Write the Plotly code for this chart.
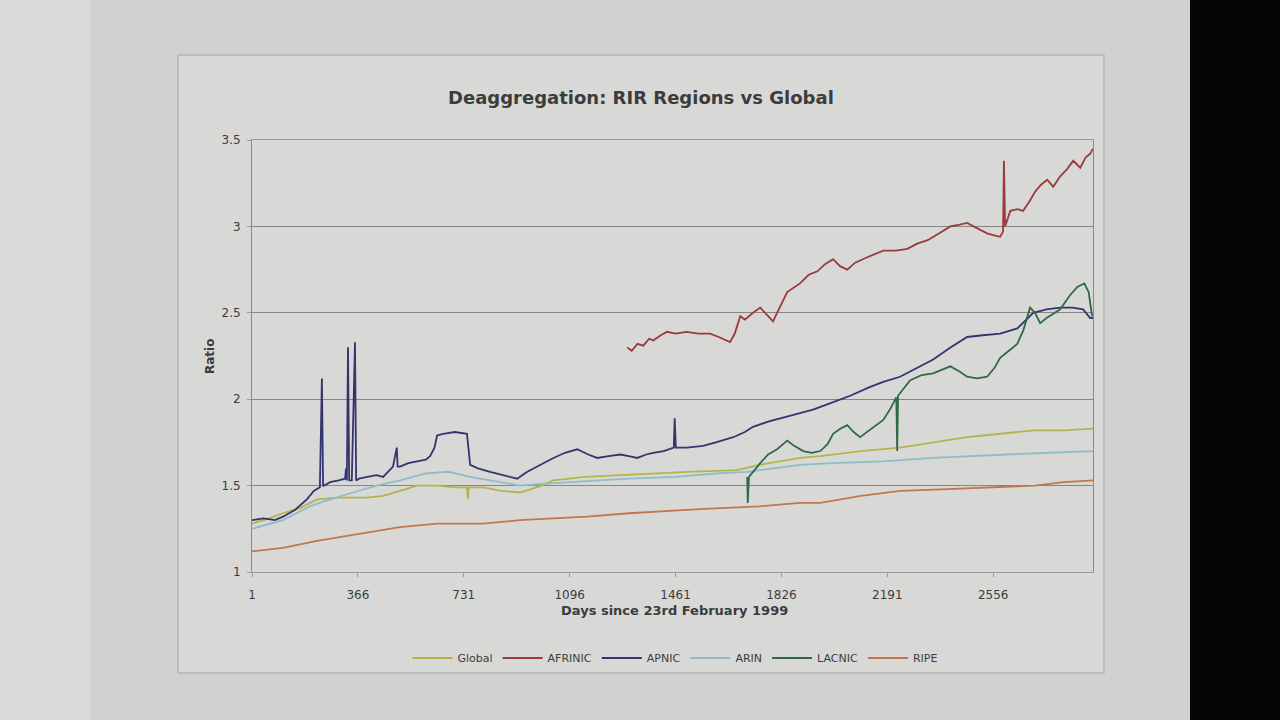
import plotly.graph_objects as go

# ---------------- data ----------------
tick_days = [1, 366, 731, 1096, 1461, 1826, 2191, 2556]
y_ticks = [1, 1.5, 2, 2.5, 3, 3.5]

global_days = [1, 60, 108, 166, 225, 300, 398, 453, 511, 570, 640, 700, 742, 745, 748, 798, 860, 925,
               1000, 1039, 1150, 1270, 1384, 1500, 1673, 1750, 1890, 1960, 2100, 2235, 2350, 2466,
               2580, 2700, 2800, 2900]
global_vals = [1.28, 1.31, 1.34, 1.37, 1.42, 1.43, 1.43, 1.44, 1.47, 1.50, 1.50, 1.49, 1.49, 1.42, 1.49,
               1.49, 1.47, 1.46, 1.50, 1.53, 1.55, 1.56, 1.57, 1.58, 1.59, 1.62, 1.66, 1.67, 1.70, 1.72,
               1.75, 1.78, 1.80, 1.82, 1.82, 1.83]

afrinic_days = [1294, 1310, 1330, 1350, 1370, 1384, 1410, 1432, 1460, 1500, 1540, 1580, 1610, 1640, 1649,
                1665, 1684, 1700, 1728, 1753, 1770, 1797, 1811, 1846, 1890, 1920, 1950, 1975, 2004, 2028,
                2053, 2080, 2120, 2177, 2220, 2260, 2294, 2330, 2370, 2408, 2440, 2466, 2500, 2535, 2556,
                2580, 2590, 2593, 2597, 2615, 2640, 2659, 2683, 2700, 2720, 2742, 2763, 2787, 2810, 2832,
                2856, 2875, 2890, 2900]
afrinic_vals = [2.30, 2.28, 2.32, 2.31, 2.35, 2.34, 2.37, 2.39, 2.38, 2.39, 2.38, 2.38, 2.36, 2.34, 2.33,
                2.38, 2.48, 2.46, 2.50, 2.53, 2.50, 2.45, 2.50, 2.62, 2.67, 2.72, 2.74, 2.78, 2.81, 2.77,
                2.75, 2.79, 2.82, 2.86, 2.86, 2.87, 2.90, 2.92, 2.96, 3.00, 3.01, 3.02, 2.99, 2.96, 2.95,
                2.94, 2.97, 3.38, 3.00, 3.09, 3.10, 3.09, 3.15, 3.20, 3.24, 3.27, 3.23, 3.29, 3.33, 3.38,
                3.34, 3.40, 3.42, 3.45]

apnic_days = [1, 40, 80, 108, 150, 190, 215, 235, 242, 246, 250, 270, 300, 322, 325, 328, 332, 336, 345,
              356, 360, 370, 398, 430, 453, 470, 487, 500, 503, 511, 540, 570, 600, 615, 630, 639, 660,
              700, 742, 753, 780, 822, 870, 915, 950, 994, 1040, 1080, 1122, 1160, 1191, 1230, 1270,
              1300, 1329, 1360, 1384, 1420, 1455, 1458, 1462, 1500, 1556, 1600, 1660, 1700, 1728, 1780,
              1846, 1890, 1935, 2000, 2063, 2130, 2177, 2235, 2290, 2349, 2410, 2466, 2520, 2580, 2639,
              2694, 2740, 2787, 2830, 2866, 2890, 2900]
apnic_vals = [1.30, 1.31, 1.30, 1.32, 1.36, 1.42, 1.47, 1.49, 2.12, 1.50, 1.50, 1.52, 1.53, 1.54, 1.60,
              1.53, 2.30, 1.53, 1.53, 2.33, 1.53, 1.54, 1.55, 1.56, 1.55, 1.58, 1.61, 1.72, 1.61, 1.61,
              1.63, 1.64, 1.65, 1.67, 1.72, 1.79, 1.80, 1.81, 1.80, 1.62, 1.60, 1.58, 1.56, 1.54, 1.58,
              1.62, 1.66, 1.69, 1.71, 1.68, 1.66, 1.67, 1.68, 1.67, 1.66, 1.68, 1.69, 1.70, 1.72, 1.89,
              1.72, 1.72, 1.73, 1.75, 1.78, 1.81, 1.84, 1.87, 1.90, 1.92, 1.94, 1.98, 2.02, 2.07, 2.10,
              2.13, 2.18, 2.23, 2.30, 2.36, 2.37, 2.38, 2.41, 2.50, 2.52, 2.53, 2.53, 2.52, 2.47, 2.47]

arin_days = [1, 108, 200, 270, 350, 430, 511, 600, 680, 753, 822, 925, 1000, 1100, 1200, 1300, 1460,
             1600, 1708, 1890, 2000, 2177, 2350, 2466, 2600, 2750, 2900]
arin_vals = [1.25, 1.30, 1.38, 1.42, 1.46, 1.50, 1.53, 1.57, 1.58, 1.55, 1.53, 1.50, 1.51, 1.52, 1.53,
             1.54, 1.55, 1.57, 1.58, 1.62, 1.63, 1.64, 1.66, 1.67, 1.68, 1.69, 1.70]

lacnic_days = [1708, 1710, 1714, 1728, 1753, 1780, 1811, 1846, 1870, 1901, 1930, 1960, 1985, 2004, 2030,
               2053, 2075, 2097, 2130, 2177, 2200, 2222, 2225, 2228, 2270, 2310, 2349, 2380, 2408, 2440,
               2466, 2500, 2535, 2560, 2580, 2610, 2639, 2660, 2683, 2700, 2718, 2740, 2787, 2820, 2846,
               2870, 2885, 2897]
lacnic_vals = [1.55, 1.40, 1.55, 1.58, 1.63, 1.68, 1.71, 1.76, 1.73, 1.70, 1.69, 1.70, 1.74, 1.80, 1.83,
               1.85, 1.81, 1.78, 1.82, 1.88, 1.94, 2.01, 1.70, 2.02, 2.11, 2.14, 2.15, 2.17, 2.19, 2.16,
               2.13, 2.12, 2.13, 2.18, 2.24, 2.28, 2.32, 2.40, 2.53, 2.50, 2.44, 2.47, 2.52, 2.60, 2.65,
               2.67, 2.62, 2.48]

ripe_days = [1, 108, 225, 300, 398, 511, 640, 798, 925, 1050, 1156, 1300, 1384, 1500, 1615, 1750, 1890,
             1960, 2100, 2235, 2400, 2580, 2700, 2800, 2900]
ripe_vals = [1.12, 1.14, 1.18, 1.20, 1.23, 1.26, 1.28, 1.28, 1.30, 1.31, 1.32, 1.34, 1.35, 1.36, 1.37,
             1.38, 1.40, 1.40, 1.44, 1.47, 1.48, 1.49, 1.50, 1.52, 1.53]

series = [
    ("Global", global_days, global_vals, "#b4b44a"),
    ("AFRINIC", afrinic_days, afrinic_vals, "#9a3a3a"),
    ("APNIC", apnic_days, apnic_vals, "#34346e"),
    ("ARIN", arin_days, arin_vals, "#8fbcc8"),
    ("LACNIC", lacnic_days, lacnic_vals, "#2f6a48"),
    ("RIPE", ripe_days, ripe_vals, "#c0774a"),
]

fig = go.Figure()
for name, d, v, c in series:
    fig.add_trace(go.Scatter(x=d, y=v, name=name, mode="lines",
                             line=dict(color=c, width=1.8)))

# plot area in screen pixels: x 252..1093, y 140..572
L, R, T, B = 252, 1093, 140, 572
W, H = R - L, B - T
def px(x):
    return (x - L) / W
def py(y):
    return (B - y) / H

font = "DejaVu Sans, Arial, sans-serif"
txt = "#3c3c3c"
shapes = [
    dict(type="rect", xref="paper", yref="paper", x0=px(0), x1=px(90), y0=py(720), y1=py(0),
         fillcolor="#d9dad8", line=dict(width=0), layer="below"),
    dict(type="rect", xref="paper", yref="paper", x0=px(90), x1=px(1190), y0=py(720), y1=py(0),
         fillcolor="#d1d2d0", line=dict(width=0), layer="below"),
    dict(type="rect", xref="paper", yref="paper", x0=px(1190), x1=px(1280), y0=py(720), y1=py(0),
         fillcolor="#050505", line=dict(width=0), layer="below"),
    dict(type="rect", xref="paper", yref="paper", x0=px(178), x1=px(1104), y0=py(673), y1=py(55),
         fillcolor="#d8d9d7", line=dict(color="#b5b6b4", width=1.5), layer="below"),
]

annotations = [
    dict(text="<b>Deaggregation: RIR Regions vs Global</b>", xref="paper", yref="paper",
         x=px(641), y=py(85), showarrow=False, font=dict(size=18, color=txt, family=font)),
    dict(text="<b>Days since 23rd February 1999</b>", xref="paper", yref="paper",
         x=px(674), y=py(620), showarrow=False, font=dict(size=13, color=txt, family=font)),
    dict(text="<b>Ratio</b>", xref="paper", yref="paper", textangle=-90,
         x=px(201), y=py(357), showarrow=False, font=dict(size=12, color=txt, family=font)),
]

fig.update_layout(
    width=1280, height=720,
    margin=dict(l=L, r=1280 - R, t=T, b=720 - B, pad=0),
    paper_bgcolor="#d1d2d0",
    plot_bgcolor="#bebfbd",
    shapes=shapes,
    annotations=annotations,
    showlegend=True,
    legend=dict(orientation="h", x=px(675), xanchor="center", y=py(658), yanchor="middle",
                font=dict(size=11, color=txt, family=font), bgcolor="rgba(0,0,0,0)",
                itemwidth=40, tracegroupgap=0),
    xaxis=dict(range=[1, 2900], tickvals=tick_days, ticktext=[str(t) for t in tick_days],
               showgrid=False, zeroline=False, showline=True, linecolor="#9a9b99", linewidth=1,
               mirror=True, ticks="outside", ticklen=4, tickcolor="#9a9b99",
               ticklabelstandoff=8,
               tickfont=dict(size=12, color=txt, family=font)),
    yaxis=dict(range=[1, 3.5], tickvals=y_ticks, ticktext=["1", "1.5", "2", "2.5", "3", "3.5"],
               showgrid=True, gridcolor="#858684", gridwidth=1.2, zeroline=False,
               showline=True, linecolor="#8a8b89", linewidth=1, mirror=True,
               ticks="outside", ticklen=4, tickcolor="#9a9b99",
               ticklabelstandoff=4,
               tickfont=dict(size=12, color=txt, family=font)),
    font=dict(family=font),
)

fig.write_html("out.html", config={"displayModeBar": False},
               post_script="document.body.style.margin='0';")
